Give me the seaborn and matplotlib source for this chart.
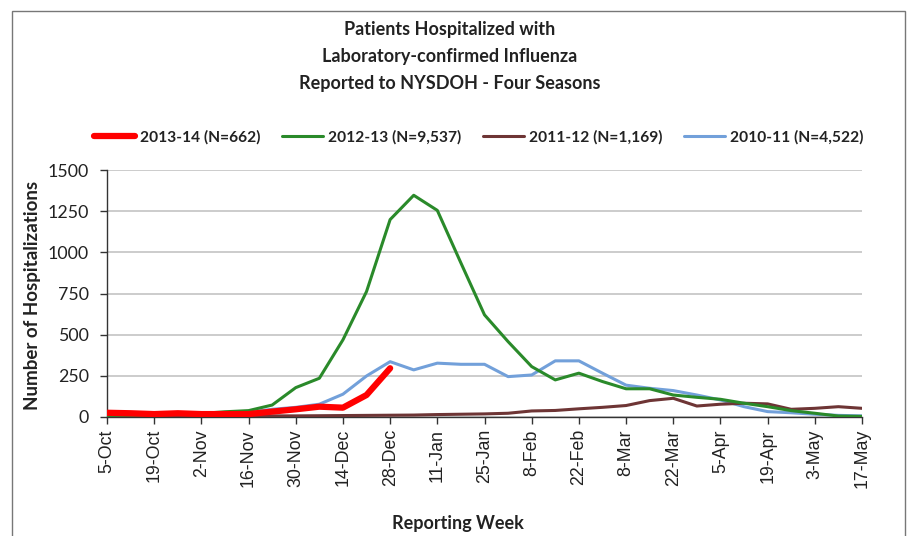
import matplotlib
matplotlib.use("Agg")
import matplotlib.pyplot as plt
import seaborn as sns
import numpy as np
import pandas as pd
from matplotlib.patches import Rectangle

weeks = ["5-Oct", "12-Oct", "19-Oct", "26-Oct", "2-Nov", "9-Nov", "16-Nov", "23-Nov",
         "30-Nov", "7-Dec", "14-Dec", "21-Dec", "28-Dec", "4-Jan", "11-Jan", "18-Jan",
         "25-Jan", "1-Feb", "8-Feb", "15-Feb", "22-Feb", "1-Mar", "8-Mar", "15-Mar",
         "22-Mar", "29-Mar", "5-Apr", "12-Apr", "19-Apr", "26-Apr", "3-May", "10-May", "17-May"]

s2013_14 = [24, 21, 16, 21, 16, 16, 16, 31, 45, 61, 55, 132, 295]
s2012_13 = [8, 10, 12, 15, 20, 30, 37, 71, 177, 234, 468, 762, 1200, 1348, 1256, 936,
            620, 457, 305, 224, 265, 214, 170, 170, 132, 118, 106, 82, 61, 37, 21, 4, 2]
s2011_12 = [2, 2, 2, 3, 3, 3, 4, 5, 5, 6, 7, 8, 9, 10, 13, 15, 17, 21, 35, 38, 48, 57,
            68, 98, 112, 65, 76, 82, 78, 45, 51, 61, 51]
s2010_11 = [5, 8, 10, 15, 18, 22, 28, 45, 57, 76, 137, 248, 335, 285, 326, 319, 319,
            244, 254, 340, 340, 265, 192, 173, 159, 132, 102, 61, 31, 24, 15, 8, 5]

labels = ["2013-14 (N=662)", "2012-13 (N=9,537)", "2011-12 (N=1,169)", "2010-11 (N=4,522)"]
colors = ["#FF0000", "#2A8A2A", "#6E3535", "#72A0DA"]
widths = [4.5, 2.2, 2.2, 2.2]
yticks = [0, 250, 500, 750, 1000, 1250, 1500]

sns.set_theme(style="white")
plt.rcParams["font.family"] = ["Lato", "DejaVu Sans"]

fig = plt.figure(figsize=(9.09, 5.36), dpi=100)
fig.patch.set_facecolor("white")
ax = fig.add_axes([107 / 909, 1 - 416.7 / 536, (862 - 107) / 909, (416.7 - 170.3) / 536])

series = [s2013_14, s2012_13, s2011_12, s2010_11]
zorders = [6, 5, 4, 3]
for vals, lab, col, lw, zo in zip(series, labels, colors, widths, zorders):
    x = np.arange(len(vals))
    sns.lineplot(x=x, y=vals, ax=ax, color=col, linewidth=lw, label=lab, zorder=zo,
                 solid_capstyle="round")

ax.set_xlim(0, len(weeks) - 1)
ax.set_ylim(0, 1500)
ax.set_yticks(yticks)
ax.set_yticklabels([str(v) for v in yticks], fontsize=12.8, color="#222222")
ax.set_xticks(np.arange(0, len(weeks), 2))
ax.set_xticklabels(weeks[::2], rotation=90, fontsize=12.8, color="#222222",
                   fontfamily="Liberation Sans")
ax.tick_params(axis="both", direction="out", length=5, width=1, color="#333333",
               bottom=True, left=True, pad=4)
ax.tick_params(axis="y", pad=8)
ax.yaxis.grid(True, color="#C8C8C8", linewidth=1.3, zorder=0)
ax.xaxis.grid(False)
for s in ["top", "right"]:
    ax.spines[s].set_visible(False)
for s in ["left", "bottom"]:
    ax.spines[s].set_color("#333333")
    ax.spines[s].set_linewidth(1.0)
ax.set_xlabel("")
ax.set_ylabel("")

leg = ax.legend(ncol=4, loc="center", bbox_to_anchor=(479 / 909, 1 - 137 / 536),
                bbox_transform=fig.transFigure, frameon=False,
                prop={"weight": "bold", "size": 11.2}, handlelength=2.6,
                handletextpad=0.35, columnspacing=1.4)
for t in leg.get_texts():
    t.set_color("#222222")

title_lines = ["Patients Hospitalized with", "Laboratory-confirmed Influenza",
               "Reported to NYSDOH - Four Seasons"]
for i, line in enumerate(title_lines):
    fig.text(450 / 909, 1 - (30 + 26.5 * i) / 536, line, ha="center", va="center",
             fontsize=13, fontweight="bold", color="#222222")

fig.text(33 / 909, 1 - 295 / 536, "Number of Hospitalizations", rotation=90,
         ha="center", va="center", fontsize=13.5, fontweight="bold", color="#222222")
fig.text(458 / 909, 1 - 524 / 536, "Reporting Week", ha="center", va="center",
         fontsize=13, fontweight="bold", color="#222222")

fig.add_artist(Rectangle((12 / 909, -0.1), (905 - 12) / 909, 1 - 11 / 536 + 0.1,
                         transform=fig.transFigure, fill=False, edgecolor="#777777",
                         linewidth=1.0))

fig.savefig("out.png", dpi=100, facecolor="white")
